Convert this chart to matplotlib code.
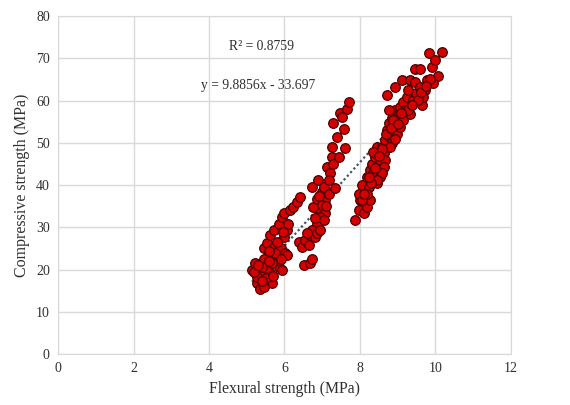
import numpy as np
import matplotlib
matplotlib.use("Agg")
import matplotlib.pyplot as plt

# flexural (MPa) / compressive (MPa)
flexural = [
    5.14, 5.23, 5.27, 5.36, 5.45, 5.45, 5.54, 5.63, 5.72, 5.85, 5.93, 6.00, 6.15, 6.24, 6.33, 6.40,
    5.72, 5.90, 5.98, 6.07, 6.10, 6.02, 6.07, 5.85, 5.80, 5.63, 5.54, 5.67, 5.45, 5.54, 5.36, 5.27,
    5.40, 5.67, 5.76, 5.90, 5.93, 5.18, 5.30, 5.50, 5.60, 5.70, 5.58, 5.40, 5.80, 5.95,
    6.51, 6.69, 6.73, 6.38, 6.46, 6.55, 6.64, 6.69, 6.77, 6.82, 6.86, 6.90, 6.95, 6.77, 6.73, 6.86,
    6.90, 6.99, 7.04, 7.08, 6.99, 7.13, 7.21, 7.26, 7.30, 7.26, 7.30, 7.39, 7.44, 7.48, 7.57, 7.61,
    7.66, 7.70, 7.52, 7.17, 7.08, 7.17, 7.35, 6.95, 6.82, 6.73, 6.60, 6.86, 6.95, 7.04, 7.10, 6.92,
    7.88, 7.97, 8.01, 7.97, 8.06, 8.10, 8.19, 8.14, 8.23, 8.19, 8.28, 8.32, 8.36, 8.41, 8.45, 8.50,
    8.54, 8.45, 8.54, 8.63, 8.58, 8.67, 8.72, 8.76, 8.80, 8.85, 8.85, 8.94, 8.98, 9.03, 9.07, 8.72,
    8.94, 9.11, 9.33, 9.47, 9.15, 9.24, 9.33, 9.42, 9.50, 9.59, 9.47, 9.59, 9.64, 9.72, 9.78, 9.82,
    9.91, 10.00, 10.17, 10.08, 9.95, 9.86, 9.68, 9.28, 9.20, 9.03, 8.89, 8.80, 8.67, 8.36, 8.63, 8.58,
    8.45, 8.28, 8.19, 8.06, 8.10, 8.98, 9.07, 9.15, 9.28, 8.89, 8.76, 9.55, 8.70, 8.82, 8.92, 9.00,
    9.10, 9.38, 9.62, 9.75, 8.60, 8.50, 8.40, 8.30, 8.25,
]
compressive = [
    20.0, 21.5, 16.7, 15.5, 22.6, 25.0, 26.2, 28.2, 29.4, 30.9, 32.5, 33.3, 34.1, 34.9, 36.1, 37.2,
    25.4, 25.0, 27.8, 29.4, 30.9, 23.8, 23.4, 20.7, 22.2, 19.1, 17.5, 16.7, 15.9, 20.3, 19.1, 18.3,
    20.7, 21.5, 23.8, 22.6, 19.9, 19.5, 21.0, 18.0, 22.0, 18.5, 24.5, 17.2, 26.5, 28.8,
    21.1, 21.5, 22.6, 26.6, 25.4, 27.0, 25.8, 28.2, 29.4, 27.8, 30.9, 32.5, 34.1, 34.9, 39.6, 36.8,
    41.2, 38.4, 39.6, 36.4, 35.3, 44.3, 42.8, 46.7, 45.1, 49.1, 54.6, 51.4, 46.7, 57.0, 53.4, 48.7,
    58.1, 59.7, 56.2, 41.2, 33.3, 38.0, 39.2, 32.5, 32.1, 29.4, 28.6, 28.6, 29.4, 31.7, 35.0, 37.5,
    31.7, 34.1, 36.4, 38.0, 40.0, 33.3, 34.9, 38.0, 39.6, 42.0, 43.6, 45.1, 42.8, 46.7, 49.1, 44.3,
    45.9, 40.4, 42.0, 47.5, 49.1, 50.7, 53.0, 54.6, 51.4, 49.9, 55.8, 57.8, 55.4, 56.9, 58.5, 61.3,
    63.3, 64.9, 64.9, 64.5, 59.7, 60.9, 56.9, 60.1, 61.7, 63.3, 67.6, 67.6, 58.9, 62.5, 64.9, 71.2,
    68.0, 69.6, 71.6, 65.8, 64.1, 65.2, 60.9, 62.5, 57.8, 53.8, 52.2, 49.1, 45.9, 47.9, 44.3, 42.8,
    41.2, 36.4, 38.0, 36.4, 38.0, 52.2, 53.8, 55.4, 57.8, 55.4, 57.8, 60.1, 52.0, 53.5, 51.0, 54.5,
    57.0, 59.0, 62.0, 63.5, 48.5, 47.0, 44.0, 40.5, 41.8,
]
slope, intercept = 9.8856, -33.697

plt.rcParams["font.family"] = ["Liberation Serif", "DejaVu Serif"]

fig, ax = plt.subplots(figsize=(5.7, 4.05), dpi=100)
fig.subplots_adjust(left=0.102, right=0.896, bottom=0.126, top=0.96)

ax.scatter(flexural, compressive, s=48, c="#d40000", edgecolors="#4a0000",
           linewidths=0.9, zorder=3)

xs = np.array([min(flexural), max(flexural)])
ax.plot(xs, slope * xs + intercept, linestyle=(0, (1, 1.2)), color="#44546a",
        linewidth=1.6, zorder=2)

ax.set_xlim(0, 12)
ax.set_ylim(0, 80)
ax.set_xticks(range(0, 13, 2))
ax.set_yticks(range(0, 81, 10))
ax.grid(True, color="#d9d9d9", linewidth=1)
ax.set_axisbelow(True)
for s in ax.spines.values():
    s.set_color("#d9d9d9")
ax.tick_params(length=0, labelsize=10, colors="#303030", pad=6)

ax.set_xlabel("Flexural strength (MPa)", fontsize=11.3, color="#303030")
ax.set_ylabel("Compressive strength (MPa)", fontsize=11.5, color="#303030")

ax.text(5.4, 72.9, "R² = 0.8759", fontsize=9.8, ha="center", va="center", color="#303030")
ax.text(5.3, 63.7, "y = 9.8856x - 33.697", fontsize=9.8, ha="center", va="center", color="#303030")

fig.savefig("out.png", dpi=100)
